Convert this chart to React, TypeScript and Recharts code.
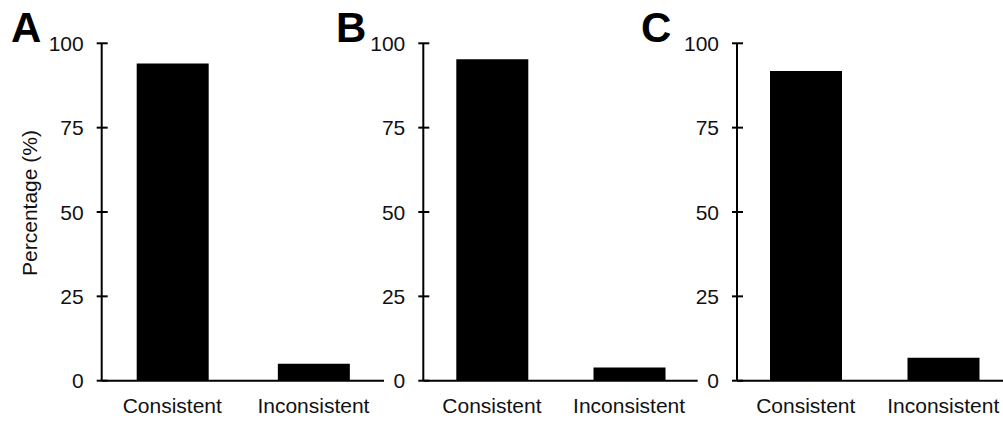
import { BarChart, Bar, XAxis, YAxis, Label } from "recharts";

const categories = ["Consistent", "Inconsistent"];
const panelLetters = ["A", "B", "C"];
const valuesA = [94, 5];
const valuesB = [95.3, 3.9];
const valuesC = [91.8, 6.8];
const yTicks = [0, 25, 50, 75, 100];
const yLabel = "Percentage (%)";

const FONT = "'Liberation Sans', Arial, sans-serif";
const INK = "#000";
const TEXT = "#111";

// y ticks cross the axis line, so draw them by hand
function YTick(props: any) {
  const { x, y, payload } = props;
  return (
    <g>
      <line x1={x - 5} x2={x + 6} y1={y} y2={y} stroke={INK} strokeWidth={2} />
      <text x={x - 18} y={y} dy="0.36em" textAnchor="end" fontSize={21} fill={TEXT}>
        {payload.value}
      </text>
    </g>
  );
}

function Panel({
  values,
  left,
  width,
  marginLeft,
  marginRight,
  showLabel,
}: {
  values: number[];
  left: number;
  width: number;
  marginLeft: number;
  marginRight: number;
  showLabel?: boolean;
}) {
  const data = categories.map((name, i) => ({ name, value: values[i] }));
  return (
    <div style={{ position: "absolute", left, top: 0 }}>
      <BarChart
        width={width}
        height={425}
        data={data}
        margin={{ top: 43.3, right: marginRight, bottom: 14.3, left: marginLeft }}
      >
        <XAxis
          dataKey="name"
          interval={0}
          height={30}
          tickLine={false}
          tickSize={0}
          tickMargin={17}
          axisLine={{ stroke: INK, strokeWidth: 2 }}
          tick={{ fontSize: 21, fill: TEXT }}
        />
        <YAxis
          width={60}
          domain={[0, 100]}
          ticks={yTicks}
          interval={0}
          tickLine={false}
          tickSize={0}
          tickMargin={0}
          axisLine={{ stroke: INK, strokeWidth: 2 }}
          tick={<YTick />}
        >
          {showLabel ? (
            <Label
              content={() => (
                <text
                  x={29}
                  y={203}
                  transform="rotate(-90 29 203)"
                  textAnchor="middle"
                  dy="0.36em"
                  fontSize={21}
                  fill={TEXT}
                >
                  {yLabel}
                </text>
              )}
            />
          ) : null}
        </YAxis>
        <Bar dataKey="value" fill={INK} barSize={72} isAnimationActive={false} />
      </BarChart>
    </div>
  );
}

export default function App() {
  return (
    <div
      style={{
        position: "absolute",
        left: 0,
        top: 0,
        width: 1003,
        height: 425,
        overflow: "hidden",
        background: "#fff",
        fontFamily: FONT,
      }}
    >
      <Panel values={valuesA} left={0} width={400} marginLeft={41.7} marginRight={16} showLabel />
      <Panel values={valuesB} left={330} width={380} marginLeft={33.3} marginRight={12.3} />
      <Panel values={valuesC} left={660} width={370} marginLeft={17} marginRight={18} />
      <svg
        width={1003}
        height={425}
        style={{ position: "absolute", left: 0, top: 0, pointerEvents: "none" }}
      >
        {panelLetters.map((t, i) => (
          <text
            key={t}
            x={[11, 336, 641][i]}
            y={42}
            fontSize={42}
            fontWeight="bold"
            fill={INK}
            fontFamily={FONT}
          >
            {t}
          </text>
        ))}
      </svg>
    </div>
  );
}
